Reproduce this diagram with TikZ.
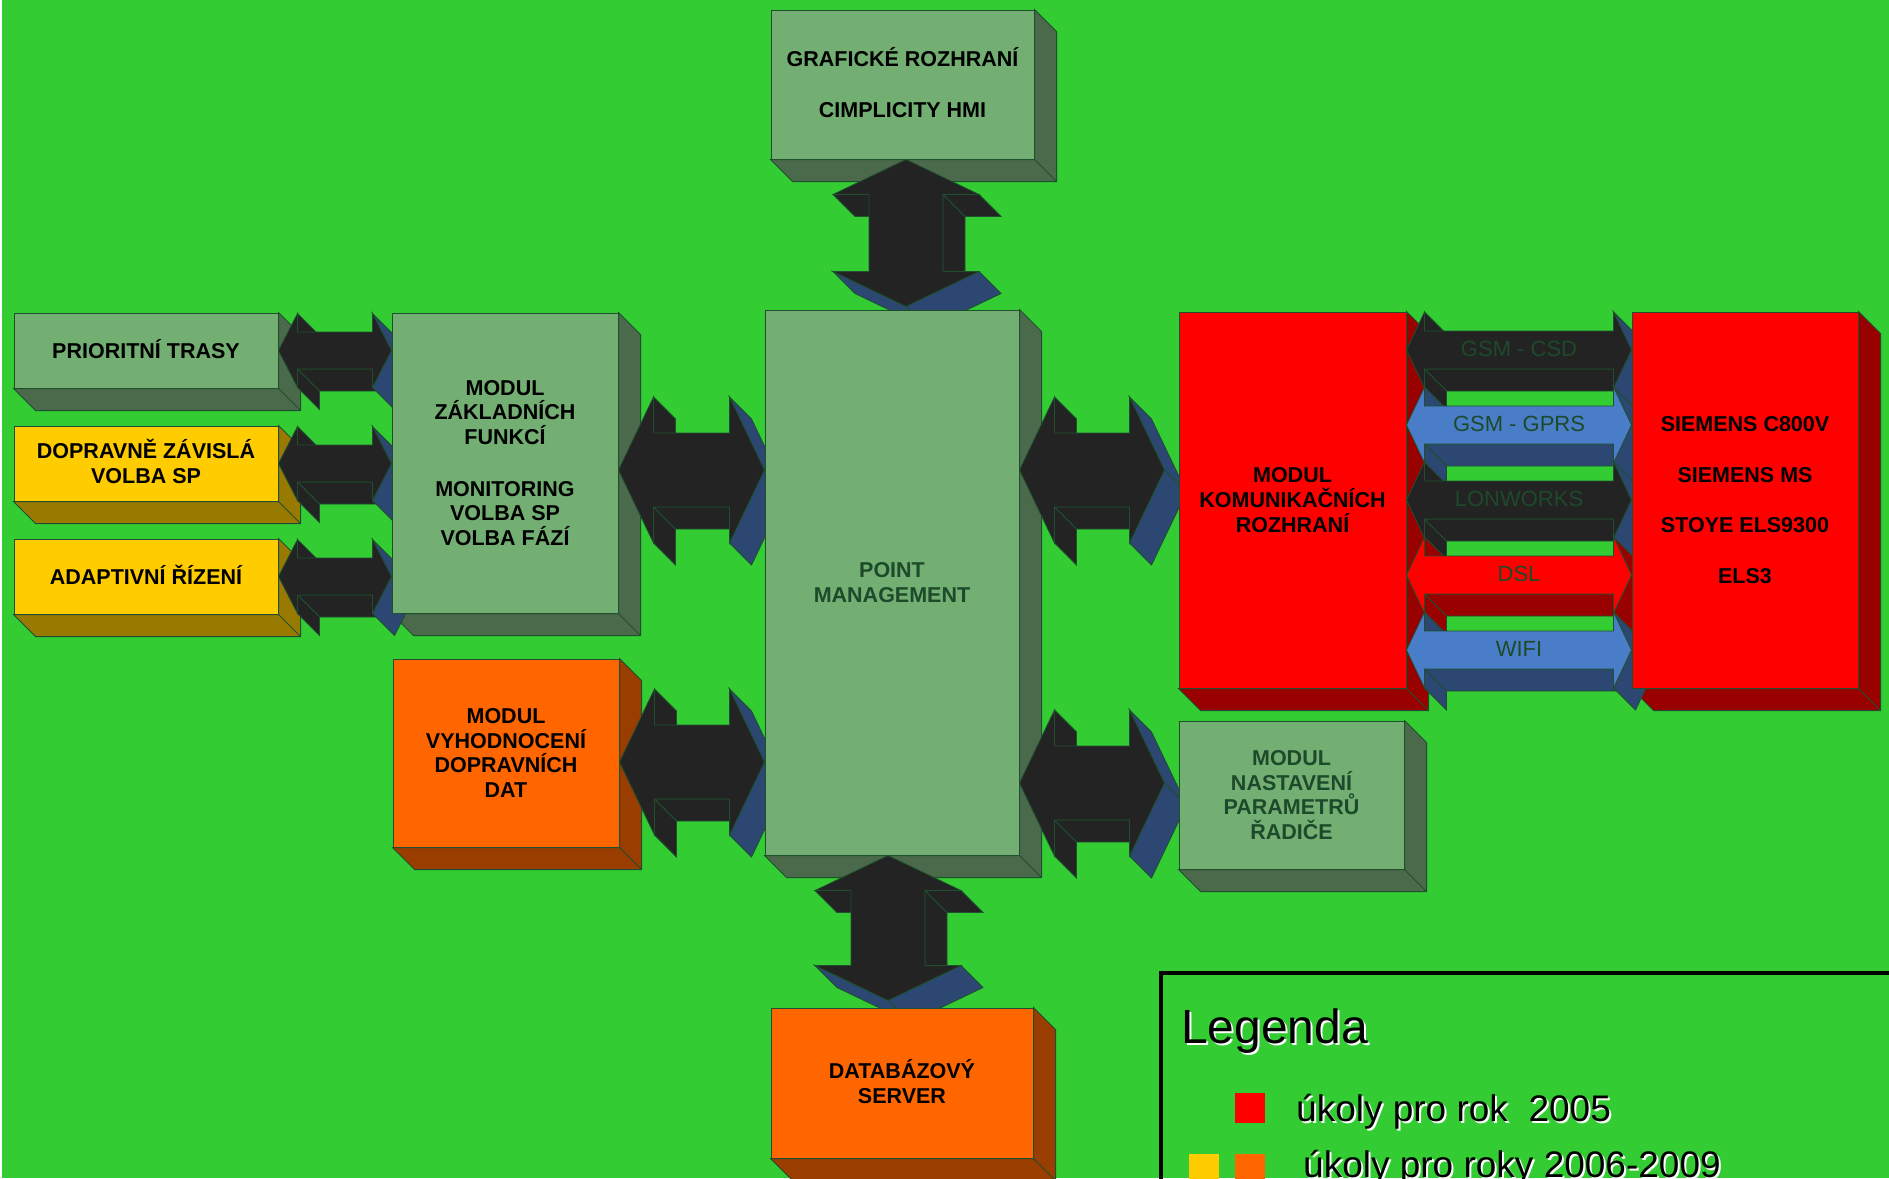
\documentclass[tikz,border=0pt]{standalone}
\usepackage{fontspec}
\setmainfont{Liberation Sans}
\usepackage{tikz}
\usetikzlibrary{calc}
\definecolor{lawn}{HTML}{33CC33}
\definecolor{sage}{HTML}{73AF73}
\definecolor{sagedk}{HTML}{4B6A4B}
\definecolor{amber}{HTML}{FFCC00}
\definecolor{amberdk}{HTML}{997A00}
\definecolor{tangerine}{HTML}{FF6600}
\definecolor{tangerinedk}{HTML}{993D00}
\definecolor{signal}{HTML}{FF0000}
\definecolor{signaldk}{HTML}{990000}
\definecolor{edge}{HTML}{1F4F2F}
\definecolor{ink}{HTML}{1C4A2A}
\definecolor{pipe}{HTML}{232323}
\definecolor{pipeend}{HTML}{2B4772}
\definecolor{sky}{HTML}{4A7DC8}
\pgfdeclarelayer{ground}
\pgfdeclarelayer{sides}
\pgfdeclarelayer{links}
\pgfsetlayers{ground,sides,links,main}
\newcommand{\capline}[1]{\raisebox{0pt}[15.5pt][0pt]{#1}}
\newcommand{\boxside}[2]{%
  \begin{pgfonlayer}{sides}
    \filldraw[fill=#2,draw=edge,line width=1pt] (#1.north east) -- ++(22,22)
      -- ($(#1.south east)+(22,22)$) -- ($(#1.south west)+(22,22)$)
      -- (#1.south west) -- (#1.south east) -- cycle;
    \draw[edge,line width=1pt] (#1.south east) -- ++(22,22);
  \end{pgfonlayer}}
\newcommand{\face}[3]{\filldraw[fill=#3,draw=edge,line width=.8pt] (#1) -- (#2) -- ($(#2)+(22,22)$) -- ($(#1)+(22,22)$) -- cycle;}
\newcommand{\linksize}[3]{\def\ah{#1}\def\aW{#2}\def\aw{#3}}
\newcommand{\hlink}[7]{%
  \coordinate (L) at (#1.east |- 0,#3);
  \coordinate (R) at ($(#2.west |- 0,#3)+(-#4,0)$);
  \coordinate (P2) at ($(L)+(\ah,-\aW)$);
  \coordinate (P3) at ($(L)+(\ah,-\aw)$);
  \coordinate (P4) at ($(R)+(-\ah,-\aw)$);
  \coordinate (P5) at ($(R)+(-\ah,-\aW)$);
  \coordinate (P7) at ($(R)+(-\ah,\aW)$);
  \coordinate (P8) at ($(R)+(-\ah,\aw)$);
  \coordinate (P9) at ($(L)+(\ah,\aw)$);
  \coordinate (P10) at ($(L)+(\ah,\aW)$);
  \begin{pgfonlayer}{links}
    \face{P2}{P3}{#6}\face{P8}{P9}{#6}\face{P9}{P10}{#6}
    \face{P5}{R}{#7}\face{R}{P7}{#7}
    \filldraw[fill=#5,draw=edge,line width=.8pt] (L) -- (P2) -- (P3) -- (P4) -- (P5)
      -- (R) -- (P7) -- (P8) -- (P9) -- (P10) -- cycle;
  \end{pgfonlayer}}
\newcommand{\vlink}[7]{%
  \coordinate (T) at (#3,0 |- #1.south);
  \coordinate (B) at ($(#3,0 |- #2.north)+(0,-#4)$);
  \coordinate (Q2) at ($(T)+(\aW,\ah)$);
  \coordinate (Q3) at ($(T)+(\aw,\ah)$);
  \coordinate (Q4) at ($(B)+(\aw,-\ah)$);
  \coordinate (Q5) at ($(B)+(\aW,-\ah)$);
  \coordinate (Q7) at ($(B)+(-\aW,-\ah)$);
  \coordinate (Q8) at ($(B)+(-\aw,-\ah)$);
  \coordinate (Q9) at ($(T)+(-\aw,\ah)$);
  \coordinate (Q10) at ($(T)+(-\aW,\ah)$);
  \begin{pgfonlayer}{links}
    \face{Q2}{Q3}{#6}\face{Q3}{Q4}{#6}\face{Q9}{Q10}{#6}
    \face{Q5}{B}{#7}\face{B}{Q7}{#7}
    \filldraw[fill=#5,draw=edge,line width=.8pt] (T) -- (Q2) -- (Q3) -- (Q4) -- (Q5)
      -- (B) -- (Q7) -- (Q8) -- (Q9) -- (Q10) -- cycle;
  \end{pgfonlayer}}
\begin{document}
\begin{tikzpicture}[x=1pt,y=-1pt,
  block/.style={draw=edge,line width=1pt,inner sep=0pt,align=center,text=black,
                font=\fontsize{21.5}{24.7}\selectfont\bfseries},
  capped/.style={text height=15.5pt},
  chan/.style={text=ink,inner sep=0pt,font=\fontsize{22}{24}\selectfont},
  legtext/.style={anchor=base west,inner sep=0pt,font=\fontsize{37}{40}\selectfont},
  swatch/.style={minimum size=30pt,inner sep=0pt}
]
  \useasboundingbox (0,0) rectangle (1889,1178);
  \begin{pgfonlayer}{ground}
    \fill[lawn] (0,0) rectangle (1889,1178);
    \fill[white] (0,0) rectangle (2,1178);
  \end{pgfonlayer}

  \node[block,fill=sage,minimum width=263pt,minimum height=149pt] (graf) at (902.5,84.5)
    {\capline{GRAFICKÉ ROZHRANÍ}\\[27pt]CIMPLICITY HMI};
  \node[block,capped,fill=sage,minimum width=264pt,minimum height=75pt] (prio) at (146,350.5)
    {PRIORITNÍ TRASY};
  \node[block,fill=amber,minimum width=264pt,minimum height=75pt] (dopr) at (146,463.5)
    {\capline{DOPRAVNĚ ZÁVISLÁ}\\VOLBA SP};
  \node[block,capped,fill=amber,minimum width=264pt,minimum height=75pt] (adapt) at (146,576.5)
    {ADAPTIVNÍ ŘÍZENÍ};
  \node[block,fill=sage,minimum width=226pt,minimum height=300pt] (zakl) at (505,463)
    {MODUL\\ZÁKLADNÍCH\\FUNKCÍ\\[27pt]MONITORING\\VOLBA SP\\VOLBA FÁZÍ};
  \node[block,fill=sage,text=ink,minimum width=254pt,minimum height=545pt] (point) at (892,582.5)
    {POINT\\MANAGEMENT};
  \node[block,fill=tangerine,minimum width=226pt,minimum height=188pt] (vyhod) at (506,753)
    {MODUL\\VYHODNOCENÍ\\DOPRAVNÍCH\\DAT};
  \node[block,fill=signal,minimum width=227pt,minimum height=376pt] (komu) at (1292.5,500)
    {MODUL\\KOMUNIKAČNÍCH\\ROZHRANÍ};
  \node[block,fill=signal,minimum width=226pt,minimum height=376pt] (siem) at (1745,500)
    {SIEMENS C800V\\[26pt]SIEMENS MS\\[26pt]STOYE ELS9300\\[26pt]ELS3};
  \node[block,fill=sage,text=ink,minimum width=225pt,minimum height=148pt] (nast) at (1291.5,795)
    {MODUL\\NASTAVENÍ\\PARAMETRŮ\\ŘADIČE};
  \node[block,fill=tangerine,minimum width=262pt,minimum height=150pt] (datab) at (902,1083)
    {\capline{DATABÁZOVÝ}\\SERVER};

  \boxside{graf}{sagedk}
  \boxside{prio}{sagedk}
  \boxside{dopr}{amberdk}
  \boxside{adapt}{amberdk}
  \boxside{zakl}{sagedk}
  \boxside{point}{sagedk}
  \boxside{vyhod}{tangerinedk}
  \boxside{komu}{signaldk}
  \boxside{siem}{signaldk}
  \boxside{nast}{sagedk}
  \boxside{datab}{tangerinedk}

  \linksize{19}{37}{18.5}
  \hlink{prio}{zakl}{350.5}{0}{pipe}{pipe}{pipeend}
  \hlink{dopr}{zakl}{463.5}{0}{pipe}{pipe}{pipeend}
  \hlink{adapt}{zakl}{576.5}{0}{pipe}{pipe}{pipeend}
  \linksize{35}{73}{37}
  \hlink{zakl}{point}{470}{0}{pipe}{pipe}{pipeend}
  \hlink{vyhod}{point}{762}{0}{pipe}{pipe}{pipeend}
  \hlink{point}{komu}{470}{14}{pipe}{pipe}{pipeend}
  \hlink{point}{nast}{783}{14}{pipe}{pipe}{pipeend}
  \vlink{graf}{point}{906}{3}{pipe}{pipe}{pipeend}
  \vlink{point}{datab}{888}{7}{pipe}{pipe}{pipeend}
  \linksize{18}{38}{19}
  \hlink{komu}{siem}{350}{0}{pipe}{pipe}{pipeend}
  \hlink{komu}{siem}{425}{0}{sky}{pipeend}{pipeend}
  \hlink{komu}{siem}{500}{0}{pipe}{pipe}{pipeend}
  \hlink{komu}{siem}{575}{0}{signal}{signaldk}{signaldk}
  \hlink{komu}{siem}{650}{0}{sky}{pipeend}{pipeend}

  \node[chan] (csd)  at (1519,349) {GSM - CSD};
  \node[chan] (gprs) at (1519,424) {GSM - GPRS};
  \node[chan] (lon)  at (1519,499) {LONWORKS};
  \node[chan] (dsl)  at (1519,574) {DSL};
  \node[chan] (wifi) at (1519,649) {WIFI};

  \draw[line width=4.5pt] (1161,973) rectangle (1910,1200);
  \node[legtext,white,font=\fontsize{48}{50}\selectfont] (legend-sh) at (1183,1045) {Legenda};
  \node[legtext,font=\fontsize{48}{50}\selectfont] (legend) at (1181,1043) {Legenda};
  \node[swatch,fill=signal] (sw05) at (1250,1108) {};
  \node[legtext,white] (y05-sh) at (1298,1123) {úkoly pro rok\ \ 2005};
  \node[legtext] (y05) at (1296,1121) {úkoly pro rok\ \ 2005};
  \node[swatch,fill=amber] (swlater1) at (1204,1169) {};
  \node[swatch,fill=tangerine] (swlater2) at (1250,1169) {};
  \node[legtext,white] (ylater-sh) at (1305,1179) {úkoly pro roky 2006-2009};
  \node[legtext] (ylater) at (1303,1177) {úkoly pro roky 2006-2009};
\end{tikzpicture}
\end{document}
